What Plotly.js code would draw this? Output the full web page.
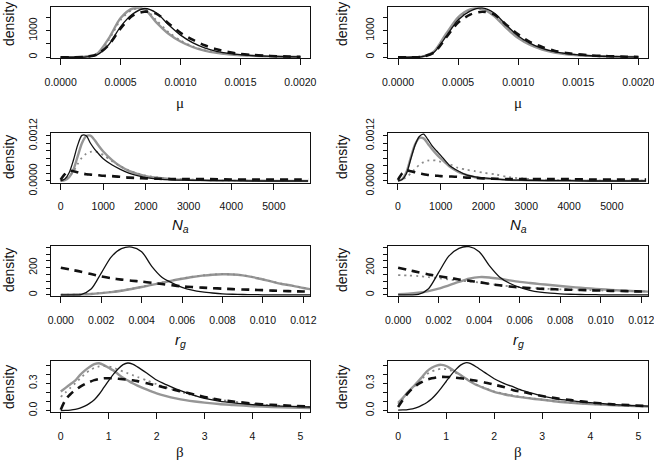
<!DOCTYPE html>
<html>
<head>
<meta charset="utf-8">
<script src="https://cdn.plot.ly/plotly-3.0.1.min.js"></script>
<style>html,body{margin:0;padding:0;background:#fff;}#chart{width:654px;height:462px;}</style>
</head>
<body>
<div id="chart"></div>
<script>
// ---------- data ----------
// mu panels
var muX = [0, 0.0001, 0.0002, 0.0003, 0.0004, 0.0005, 0.0006, 0.0007, 0.0008, 0.0009, 0.0010, 0.0011, 0.0012, 0.0013, 0.0014, 0.0015, 0.0016, 0.0017, 0.0018, 0.0019, 0.0020];
var muL_black = [0, 0, 8, 80, 470, 1150, 1620, 1830, 1660, 1220, 830, 550, 355, 225, 145, 95, 62, 42, 28, 18, 12];
var muL_dash  = [0, 0, 12, 95, 460, 1080, 1560, 1710, 1630, 1270, 920, 660, 450, 300, 195, 125, 85, 58, 40, 26, 16];
var muL_gray  = [0, 0, 20, 120, 700, 1470, 1830, 1800, 1300, 880, 590, 385, 250, 165, 112, 78, 55, 38, 26, 17, 10];
var muL_dot   = [0, 0, 18, 110, 640, 1400, 1790, 1810, 1380, 940, 630, 410, 265, 175, 118, 80, 56, 39, 27, 18, 11];
var muR_black = [0, 0, 20, 190, 780, 1400, 1730, 1850, 1660, 1210, 800, 520, 330, 210, 135, 88, 57, 38, 25, 16, 10];
var muR_dash  = [0, 0, 20, 180, 740, 1300, 1600, 1710, 1610, 1220, 860, 570, 385, 245, 160, 108, 72, 48, 32, 20, 12];
var muR_gray  = [0, 0, 25, 220, 880, 1500, 1800, 1820, 1550, 1100, 720, 460, 290, 180, 115, 75, 50, 33, 22, 14, 8];
var muR_dot   = [0, 0, 25, 210, 850, 1460, 1770, 1800, 1560, 1130, 750, 480, 305, 190, 122, 80, 53, 35, 23, 15, 9];

// N_a panels
var naX = [0, 100, 200, 300, 400, 500, 600, 700, 800, 900, 1000, 1200, 1400, 1600, 1800, 2000, 2300, 2600, 3000, 3500, 4000, 4500, 5000, 5500, 5800];
var naL_black = [0, 0.00005, 0.00022, 0.00055, 0.00095, 0.00121, 0.00120, 0.00100, 0.00084, 0.00071, 0.00059, 0.00043, 0.00031, 0.00021, 0.00014, 0.00009, 0.00005, 0.00003, 0.00002, 0.00001, 0.00001, 0, 0, 0, 0];
var naL_dash  = [0.00003, 0.00018, 0.00027, 0.00026, 0.00023, 0.00020, 0.00018, 0.00017, 0.00016, 0.00015, 0.00014, 0.00013, 0.00011, 0.00009, 0.00008, 0.00007, 0.00006, 0.00005, 0.00005, 0.00005, 0.00004, 0.00004, 0.00004, 0.00004, 0.00004];
var naL_gray  = [0, 0.00002, 0.00010, 0.00030, 0.00065, 0.00100, 0.00119, 0.00120, 0.00108, 0.00092, 0.00078, 0.00056, 0.00039, 0.00027, 0.00019, 0.00013, 0.00008, 0.00005, 0.00003, 0.00002, 0.00001, 0.00001, 0, 0, 0];
var naL_dot   = [0.00003, 0.00005, 0.00012, 0.00025, 0.00045, 0.00062, 0.00072, 0.00077, 0.00078, 0.00075, 0.00069, 0.00053, 0.00039, 0.00028, 0.00020, 0.00014, 0.00009, 0.00006, 0.00004, 0.00002, 0.00001, 0.00001, 0, 0, 0];
var naR_black = [0, 0.00004, 0.00020, 0.00058, 0.00095, 0.00118, 0.00124, 0.00110, 0.00093, 0.00080, 0.00068, 0.00042, 0.00027, 0.00016, 0.00011, 0.00008, 0.00005, 0.00003, 0.00002, 0.00001, 0.00001, 0, 0, 0, 0];
var naR_dash  = [0.00003, 0.00020, 0.00028, 0.00026, 0.00023, 0.00020, 0.00018, 0.00016, 0.00015, 0.00014, 0.00013, 0.00012, 0.00011, 0.00009, 0.00008, 0.00007, 0.00006, 0.00005, 0.00005, 0.00005, 0.00005, 0.00004, 0.00004, 0.00004, 0.00004];
var naR_gray  = [0, 0.00005, 0.00024, 0.00062, 0.00097, 0.00114, 0.00113, 0.00099, 0.00084, 0.00071, 0.00060, 0.00039, 0.00025, 0.00016, 0.00010, 0.00007, 0.00005, 0.00003, 0.00002, 0.00001, 0.00001, 0, 0, 0, 0];
var naR_dot   = [0.00002, 0.00005, 0.00010, 0.00020, 0.00032, 0.00043, 0.00050, 0.00054, 0.00055, 0.00054, 0.00051, 0.00045, 0.00035, 0.00030, 0.00026, 0.00022, 0.00017, 0.00010, 0.00006, 0.00003, 0.00002, 0.00001, 0.00001, 0.00001, 0.00001];

// r_g panels
var rgX = [0, 0.0005, 0.001, 0.0015, 0.002, 0.0025, 0.003, 0.0035, 0.004, 0.0045, 0.005, 0.0055, 0.006, 0.0065, 0.007, 0.0075, 0.008, 0.0085, 0.009, 0.0095, 0.010, 0.0105, 0.011, 0.0115, 0.012, 0.0125];
var rgL_black = [0, 0, 2, 42, 160, 280, 340, 352, 318, 210, 130, 88, 55, 34, 21, 13, 7, 4, 2, 1, 0, 0, 0, 0, 0, 0];
var rgL_dash  = [200, 185, 170, 153, 136, 122, 112, 104, 97, 88, 79, 70, 62, 57, 53, 49, 45, 42, 39, 37, 34, 31, 28, 26, 24, 22];
var rgL_gray  = [0, 1, 3, 6, 12, 20, 30, 43, 57, 73, 88, 104, 118, 131, 141, 148, 151, 150, 143, 130, 113, 95, 78, 66, 50, 38];
var rgL_dot   = [0, 1, 4, 7, 13, 21, 31, 44, 58, 74, 90, 105, 120, 132, 142, 149, 152, 150, 144, 131, 114, 96, 79, 65, 51, 39];
var rgR_black = [0, 0, 3, 45, 165, 285, 343, 355, 318, 215, 132, 85, 54, 33, 20, 12, 7, 4, 2, 1, 0, 0, 0, 0, 0, 0];
var rgR_dash  = [200, 183, 166, 150, 137, 125, 113, 103, 93, 80, 70, 61, 54, 49, 45, 42, 39, 37, 35, 33, 31, 29, 28, 26, 24, 23];
var rgR_gray  = [5, 8, 15, 27, 45, 70, 95, 118, 130, 128, 118, 106, 95, 87, 79, 72, 65, 58, 52, 46, 41, 36, 32, 28, 25, 22];
var rgR_dot   = [145, 142, 138, 130, 122, 113, 105, 98, 90, 80, 71, 63, 56, 51, 47, 43, 40, 38, 36, 34, 32, 30, 29, 27, 25, 24];

// beta panels
var bX = [0, 0.1, 0.2, 0.3, 0.4, 0.5, 0.6, 0.7, 0.8, 0.9, 1.0, 1.1, 1.2, 1.3, 1.4, 1.5, 1.6, 1.8, 2.0, 2.2, 2.4, 2.6, 2.8, 3.0, 3.3, 3.6, 4.0, 4.4, 4.8, 5.2];
var bL_black = [0, 0.002, 0.006, 0.013, 0.028, 0.05, 0.08, 0.12, 0.18, 0.255, 0.33, 0.40, 0.46, 0.505, 0.523, 0.51, 0.48, 0.41, 0.336, 0.285, 0.24, 0.2, 0.165, 0.135, 0.105, 0.085, 0.066, 0.054, 0.046, 0.04];
var bL_dash  = [0.01, 0.12, 0.18, 0.225, 0.26, 0.29, 0.315, 0.335, 0.348, 0.355, 0.356, 0.354, 0.35, 0.345, 0.34, 0.333, 0.324, 0.3, 0.275, 0.25, 0.225, 0.2, 0.175, 0.15, 0.12, 0.1, 0.078, 0.064, 0.054, 0.046];
var bL_gray  = [0.21, 0.25, 0.29, 0.33, 0.39, 0.44, 0.48, 0.51, 0.52, 0.5, 0.47, 0.44, 0.4, 0.36, 0.33, 0.3, 0.275, 0.23, 0.19, 0.16, 0.135, 0.115, 0.1, 0.088, 0.073, 0.062, 0.048, 0.039, 0.033, 0.029];
var bL_dot   = [0.15, 0.2, 0.25, 0.3, 0.35, 0.4, 0.44, 0.47, 0.485, 0.49, 0.485, 0.47, 0.45, 0.43, 0.41, 0.39, 0.37, 0.33, 0.29, 0.255, 0.22, 0.19, 0.165, 0.145, 0.12, 0.1, 0.075, 0.058, 0.046, 0.037];
var bR_black = [0.005, 0.008, 0.012, 0.02, 0.035, 0.06, 0.09, 0.13, 0.185, 0.25, 0.32, 0.39, 0.45, 0.5, 0.525, 0.52, 0.49, 0.42, 0.35, 0.3, 0.26, 0.22, 0.19, 0.16, 0.13, 0.11, 0.087, 0.07, 0.058, 0.05];
var bR_dash  = [0.04, 0.12, 0.19, 0.245, 0.285, 0.315, 0.34, 0.355, 0.365, 0.37, 0.37, 0.368, 0.362, 0.356, 0.35, 0.34, 0.33, 0.31, 0.285, 0.26, 0.225, 0.205, 0.18, 0.16, 0.135, 0.115, 0.09, 0.072, 0.06, 0.05];
var bR_gray  = [0.085, 0.14, 0.2, 0.255, 0.31, 0.37, 0.43, 0.47, 0.495, 0.503, 0.49, 0.46, 0.425, 0.39, 0.355, 0.32, 0.29, 0.245, 0.205, 0.18, 0.16, 0.145, 0.13, 0.12, 0.1, 0.087, 0.072, 0.061, 0.053, 0.046];
var bR_dot   = [0.07, 0.13, 0.19, 0.245, 0.3, 0.35, 0.4, 0.43, 0.45, 0.46, 0.455, 0.44, 0.415, 0.385, 0.355, 0.325, 0.295, 0.25, 0.21, 0.185, 0.165, 0.148, 0.133, 0.122, 0.103, 0.089, 0.074, 0.062, 0.054, 0.047];

// tick labels
var muTickVals = [0, 0.0005, 0.0010, 0.0015, 0.0020];
var muTickText = ["0.0000", "0.0005", "0.0010", "0.0015", "0.0020"];
var naTickVals = [0, 1000, 2000, 3000, 4000, 5000];
var naTickText = ["0", "1000", "2000", "3000", "4000", "5000"];
var rgTickVals = [0, 0.002, 0.004, 0.006, 0.008, 0.010, 0.012];
var rgTickText = ["0.000", "0.002", "0.004", "0.006", "0.008", "0.010", "0.012"];
var bTickVals = [0, 1, 2, 3, 4, 5];
var bTickText = ["0", "1", "2", "3", "4", "5"];
var muYVals = [0, 1000];
var muYText = ["0", "1000"];
var muYAll = [0, 500, 1000, 1500];
var naYVals = [0, 0.0012];
var naYText = ["0.0000", "0.0012"];
var naYAll = [0, 0.0002, 0.0004, 0.0006, 0.0008, 0.0010, 0.0012];
var rgYVals = [0, 200];
var rgYText = ["0", "200"];
var rgYAll = [0, 50, 100, 150, 200, 250, 300, 350];
var bYVals = [0, 0.3];
var bYText = ["0.0", "0.3"];
var bYAll = [0, 0.1, 0.2, 0.3, 0.4, 0.5];

// ---------- build ----------
var styles = {
  gray:  {color: '#969696', width: 2.4, dash: 'solid'},
  dot:   {color: '#8a8a8a', width: 1.8, dash: '2px,4px'},
  dash:  {color: '#111111', width: 2.6, dash: '8px,6px'},
  black: {color: '#111111', width: 1.3, dash: 'solid'}
};
var panels = [
  {x: muX, s: {gray: muL_gray, dot: muL_dot, dash: muL_dash, black: muL_black}},
  {x: muX, s: {gray: muR_gray, dot: muR_dot, dash: muR_dash, black: muR_black}},
  {x: naX, s: {gray: naL_gray, dot: naL_dot, dash: naL_dash, black: naL_black}},
  {x: naX, s: {gray: naR_gray, dot: naR_dot, dash: naR_dash, black: naR_black}},
  {x: rgX, s: {gray: rgL_gray, dot: rgL_dot, dash: rgL_dash, black: rgL_black}},
  {x: rgX, s: {gray: rgR_gray, dot: rgR_dot, dash: rgR_dash, black: rgR_black}},
  {x: bX,  s: {gray: bL_gray,  dot: bL_dot,  dash: bL_dash,  black: bL_black}},
  {x: bX,  s: {gray: bR_gray,  dot: bR_dot,  dash: bR_dash,  black: bR_black}}
];
var traces = [];
panels.forEach(function (p, i) {
  var n = i === 0 ? '' : String(i + 1);
  ['gray', 'dot', 'dash', 'black'].forEach(function (k) {
    traces.push({
      type: 'scatter', mode: 'lines', x: p.x, y: p.s[k],
      xaxis: 'x' + n, yaxis: 'y' + n, hoverinfo: 'skip', showlegend: false,
      line: {color: styles[k].color, width: styles[k].width, dash: styles[k].dash, shape: 'spline', smoothing: 0.8}
    });
  });
});

var W = 654, H = 462;
function px2x(a) { return a / W; }
function px2y(a) { return 1 - a / H; }
var cols = [[50.7, 310], [388, 648]];
var rows = [[7.3, 58], [132.7, 182.5], [245.7, 296], [361, 412]];
var xRanges = [[-0.0000833, 0.00208], [-0.0000833, 0.00208], [-232, 5845], [-232, 5845], [-0.0005, 0.01233], [-0.0005, 0.01233], [-0.21, 5.2], [-0.21, 5.2]];
var yRanges = [[-28, 1875], [-28, 1875], [-0.00004, 0.00128], [-0.00004, 0.00128], [-9, 362], [-9, 362], [-0.015, 0.545], [-0.015, 0.545]];
var xt = [[muTickVals, muTickText], [naTickVals, naTickText], [rgTickVals, rgTickText], [bTickVals, bTickText]];
var yt = [[muYVals, muYText, muYAll], [naYVals, naYText, naYAll], [rgYVals, rgYText, rgYAll], [bYVals, bYText, bYAll]];

var layout = {
  width: W, height: H, margin: {l: 0, r: 0, t: 0, b: 0},
  paper_bgcolor: '#fff', plot_bgcolor: '#fff', showlegend: false,
  font: {family: 'Liberation Sans, Arial, sans-serif', color: '#111'},
  annotations: []
};
var common = {showline: true, linecolor: '#111', linewidth: 1, mirror: true, ticks: 'outside', tickcolor: '#111', tickwidth: 1,
  showgrid: false, zeroline: false, tickmode: 'array', fixedrange: true, ticklabeloverflow: 'allow'};
for (var i = 0; i < 8; i++) {
  var n = i === 0 ? '' : String(i + 1);
  var r = Math.floor(i / 2), c = i % 2;
  layout['xaxis' + n] = Object.assign({}, common, {
    domain: [px2x(cols[c][0]), px2x(cols[c][1])], range: xRanges[i], anchor: 'y' + n,
    tickvals: xt[r][0], ticktext: xt[r][1], ticklen: 6, ticklabelstandoff: 8,
    tickfont: {size: 10.5, family: 'Liberation Sans, Arial, sans-serif', color: '#111'}
  });
  layout['yaxis' + n] = Object.assign({}, common, {
    domain: [px2y(rows[r][1]), px2y(rows[r][0])], range: yRanges[i], anchor: 'x' + n,
    tickvals: yt[r][0], ticktext: yt[r][1], ticklen: 4, tickangle: -90, ticklabelstandoff: 5,
    minor: {tickmode: 'array', tickvals: yt[r][2], ticks: 'outside', ticklen: 4, tickwidth: 1, tickcolor: '#111', showgrid: false},
    tickfont: {size: 10.5, family: 'Liberation Sans, Arial, sans-serif', color: '#111'}
  });
}
var xTitles = ['μ', '<i>N<sub>a</sub></i>', '<i>r<sub>g</sub></i>', 'β'];
var xTitleFonts = ['Liberation Serif, serif', 'Liberation Sans, Arial, sans-serif', 'Liberation Sans, Arial, sans-serif', 'Liberation Serif, serif'];
var xTitleY = [103, 225, 340, 452];
var densY = [24, 157, 270, 387];
var densX = [9, 342];
for (var r2 = 0; r2 < 4; r2++) {
  for (var c2 = 0; c2 < 2; c2++) {
    layout.annotations.push({
      xref: 'paper', yref: 'paper', x: px2x((cols[c2][0] + cols[c2][1]) / 2), y: px2y(xTitleY[r2]),
      xanchor: 'center', yanchor: 'middle', showarrow: false, text: xTitles[r2],
      font: {size: 15, family: xTitleFonts[r2], color: '#111'}
    });
    layout.annotations.push({
      xref: 'paper', yref: 'paper', x: px2x(densX[c2]), y: px2y(densY[r2]),
      xanchor: 'center', yanchor: 'middle', showarrow: false, text: 'density', textangle: -90,
      font: {size: 14, family: 'Liberation Sans, Arial, sans-serif', color: '#111'}
    });
  }
}
Plotly.newPlot('chart', traces, layout, {displayModeBar: false, staticPlot: true});
</script>
</body>
</html>
